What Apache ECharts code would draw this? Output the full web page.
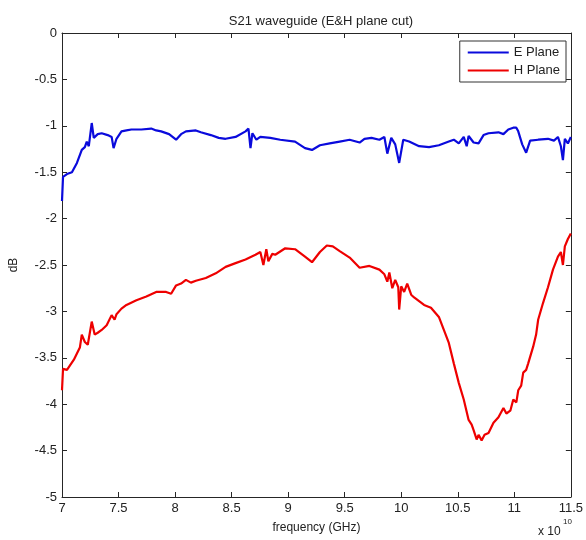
<!DOCTYPE html>
<html><head><meta charset="utf-8">
<script src="https://cdn.jsdelivr.net/npm/echarts@6/dist/echarts.min.js"></script>
<style>html,body{margin:0;padding:0;background:#fff}#c{width:586px;height:540px}</style>
</head><body><div id="c"></div>
<script>
// frequency in units of 1e10 Hz
const eFreq = [7.000,7.009,7.044,7.088,7.132,7.175,7.202,7.219,7.237,7.263,7.281,7.316,7.351,7.404,7.439,7.456,7.482,7.526,7.570,7.614,7.702,7.789,7.833,7.877,7.947,8.009,8.053,8.096,8.184,8.228,8.316,8.386,8.447,8.535,8.623,8.649,8.667,8.684,8.719,8.754,8.842,8.930,9.061,9.149,9.211,9.281,9.368,9.456,9.544,9.632,9.675,9.737,9.807,9.851,9.877,9.912,9.947,9.982,10.018,10.070,10.158,10.246,10.333,10.421,10.465,10.509,10.553,10.579,10.596,10.640,10.684,10.728,10.772,10.860,10.904,10.947,10.991,11.018,11.035,11.070,11.105,11.140,11.211,11.298,11.351,11.386,11.412,11.430,11.447,11.474,11.500];
const eDb = [-1.81,-1.55,-1.52,-1.50,-1.40,-1.26,-1.23,-1.17,-1.22,-0.97,-1.13,-1.09,-1.08,-1.10,-1.12,-1.24,-1.14,-1.06,-1.05,-1.04,-1.04,-1.03,-1.05,-1.06,-1.09,-1.15,-1.09,-1.06,-1.05,-1.07,-1.10,-1.13,-1.14,-1.12,-1.06,-1.03,-1.24,-1.08,-1.15,-1.12,-1.13,-1.15,-1.17,-1.24,-1.26,-1.21,-1.19,-1.17,-1.15,-1.18,-1.14,-1.13,-1.15,-1.12,-1.30,-1.13,-1.20,-1.40,-1.15,-1.17,-1.22,-1.23,-1.21,-1.17,-1.15,-1.19,-1.12,-1.22,-1.11,-1.18,-1.19,-1.10,-1.08,-1.07,-1.09,-1.04,-1.02,-1.02,-1.06,-1.20,-1.29,-1.16,-1.15,-1.14,-1.16,-1.12,-1.22,-1.37,-1.14,-1.19,-1.12];
const hFreq = [7.000,7.009,7.044,7.105,7.158,7.175,7.202,7.228,7.263,7.289,7.316,7.351,7.395,7.439,7.465,7.482,7.526,7.570,7.658,7.746,7.833,7.921,7.965,8.009,8.053,8.096,8.140,8.184,8.272,8.360,8.447,8.535,8.623,8.711,8.754,8.781,8.807,8.825,8.860,8.886,8.974,9.061,9.149,9.211,9.281,9.342,9.395,9.456,9.544,9.632,9.719,9.807,9.851,9.877,9.895,9.921,9.947,9.974,9.982,10.000,10.026,10.053,10.088,10.114,10.202,10.263,10.333,10.377,10.421,10.465,10.509,10.553,10.596,10.623,10.640,10.667,10.684,10.711,10.737,10.772,10.816,10.860,10.904,10.930,10.965,10.991,11.018,11.035,11.061,11.079,11.105,11.123,11.167,11.193,11.211,11.254,11.298,11.342,11.386,11.412,11.430,11.447,11.474,11.500];
const hDb = [-3.85,-3.62,-3.63,-3.52,-3.39,-3.25,-3.33,-3.36,-3.11,-3.25,-3.23,-3.20,-3.15,-3.04,-3.09,-3.03,-2.97,-2.93,-2.88,-2.84,-2.79,-2.79,-2.81,-2.72,-2.70,-2.66,-2.69,-2.67,-2.64,-2.59,-2.52,-2.48,-2.44,-2.39,-2.36,-2.50,-2.33,-2.46,-2.38,-2.39,-2.32,-2.33,-2.41,-2.47,-2.36,-2.29,-2.30,-2.35,-2.42,-2.53,-2.51,-2.55,-2.60,-2.68,-2.58,-2.75,-2.66,-2.74,-2.98,-2.73,-2.79,-2.70,-2.82,-2.85,-2.93,-2.96,-3.06,-3.20,-3.34,-3.56,-3.77,-3.95,-4.17,-4.22,-4.28,-4.38,-4.33,-4.39,-4.33,-4.31,-4.20,-4.14,-4.04,-4.10,-4.07,-3.95,-3.98,-3.85,-3.80,-3.66,-3.63,-3.56,-3.38,-3.25,-3.09,-2.91,-2.74,-2.55,-2.41,-2.36,-2.50,-2.30,-2.22,-2.16];
const seriesNames = ['E Plane','H Plane'];
const xTicks = ['7','7.5','8','8.5','9','9.5','10','10.5','11','11.5'];
const yTicks = ['-5','-4.5','-4','-3.5','-3','-2.5','-2','-1.5','-1','-0.5','0'];

const font = 'Liberation Sans, Arial, sans-serif';
const axCol = '#262626';
const chart = echarts.init(document.getElementById('c'));
function zip(a,b){return a.map((v,i)=>[v,b[i]]);}
const baseAxis = {
  axisLine:{show:true,onZero:false,lineStyle:{color:axCol,width:1}},
  axisTick:{show:true,inside:true,length:5,lineStyle:{color:axCol}},
  splitLine:{show:false}
};
chart.setOption({
  animation:false,
  backgroundColor:'#fff',
  title:{text:'S21 waveguide (E&H plane cut)',left:316,top:10,textAlign:'center',
    textStyle:{fontFamily:font,fontSize:13,fontWeight:'normal',color:'#222'}},
  grid:{left:60,right:13,top:33,bottom:43,containLabel:false},
  legend:{data:seriesNames,orient:'vertical',right:20,top:41,
    backgroundColor:'#fff',borderColor:'#333',borderWidth:1,padding:[5,6,5,8],
    itemGap:5,itemWidth:41,itemHeight:2,icon:'rect',
    textStyle:{fontFamily:font,fontSize:13,color:'#222'}},
  xAxis:[
    Object.assign({type:'value',min:7,max:11.5,interval:0.5,position:'bottom',
      name:'frequency (GHz)',nameLocation:'middle',nameGap:25,
      nameTextStyle:{fontFamily:font,fontSize:12,color:'#222'},
      axisLabel:{fontFamily:font,fontSize:13,color:'#222',margin:5,
        formatter:(v)=>xTicks[Math.round((v-7)/0.5)]}},baseAxis),
    Object.assign({type:'value',min:7,max:11.5,interval:0.5,position:'top',
      axisLabel:{show:false}},baseAxis)
  ],
  yAxis:[
    Object.assign({type:'value',min:-5,max:0,interval:0.5,position:'left',
      name:'dB',nameLocation:'middle',nameGap:42,nameRotate:90,
      nameTextStyle:{fontFamily:font,fontSize:12,color:'#222'},
      axisLabel:{fontFamily:font,fontSize:13,color:'#222',margin:5,
        formatter:(v)=>yTicks[Math.round((v+5)/0.5)]}},baseAxis),
    Object.assign({type:'value',min:-5,max:0,interval:0.5,position:'right',
      axisLabel:{show:false}},baseAxis)
  ],
  graphic:[
    {type:'text',left:538,top:526,style:{text:'x 10',fontFamily:font,fontSize:12,fill:'#222'}},
    {type:'text',left:563,top:518,style:{text:'10',fontFamily:font,fontSize:8,fill:'#222'}}
  ],
  series:[
    {name:seriesNames[0],type:'line',data:zip(eFreq,eDb),showSymbol:false,
     lineStyle:{color:'#0a0adc',width:2.2},itemStyle:{color:'#0a0adc'}},
    {name:seriesNames[1],type:'line',data:zip(hFreq,hDb),showSymbol:false,
     lineStyle:{color:'#ee0000',width:2.2},itemStyle:{color:'#ee0000'}}
  ]
});
</script></body></html>
